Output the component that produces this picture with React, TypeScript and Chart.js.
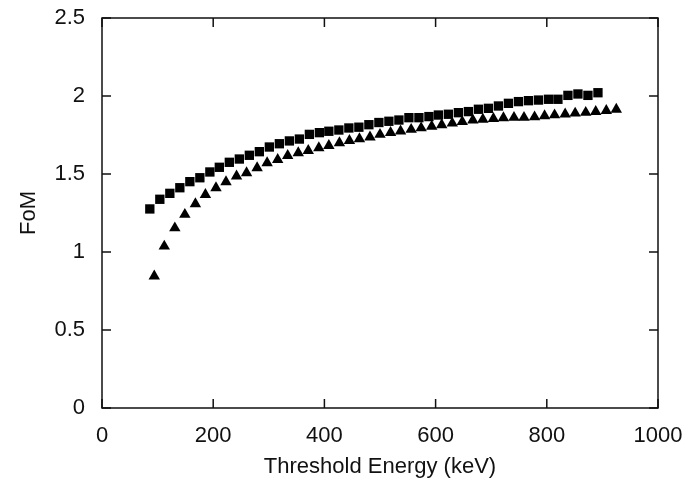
import React, { useEffect, useRef } from "react";
import { Chart, registerables } from "chart.js";

Chart.register(...registerables);

const squareEnergy = [86, 104, 122, 140, 158, 176, 194, 211, 229, 247, 265, 283, 301, 319, 337, 355, 373, 391, 408, 426, 444, 462, 480, 498, 516, 534, 552, 570, 588, 605, 623, 641, 659, 677, 695, 713, 731, 749, 767, 785, 803, 820, 838, 856, 874, 892];
const squareFoM = [1.276, 1.338, 1.376, 1.412, 1.451, 1.476, 1.513, 1.543, 1.575, 1.596, 1.62, 1.643, 1.673, 1.694, 1.712, 1.724, 1.754, 1.765, 1.774, 1.782, 1.795, 1.8, 1.816, 1.83, 1.838, 1.846, 1.861, 1.861, 1.868, 1.878, 1.883, 1.893, 1.9, 1.915, 1.921, 1.936, 1.953, 1.964, 1.97, 1.974, 1.979, 1.979, 2.004, 2.013, 2.004, 2.021];

const triangleEnergy = [94, 112, 131, 149, 168, 186, 205, 223, 242, 260, 279, 297, 316, 334, 353, 371, 390, 408, 427, 445, 463, 482, 500, 519, 537, 556, 574, 593, 611, 630, 648, 667, 685, 704, 722, 741, 759, 778, 796, 814, 833, 851, 870, 888, 907, 925];
const triangleFoM = [0.845, 1.037, 1.154, 1.24, 1.308, 1.368, 1.411, 1.449, 1.486, 1.507, 1.539, 1.571, 1.592, 1.618, 1.635, 1.65, 1.667, 1.682, 1.699, 1.714, 1.725, 1.736, 1.753, 1.765, 1.775, 1.785, 1.795, 1.805, 1.815, 1.825, 1.835, 1.845, 1.85, 1.855, 1.86, 1.862, 1.862, 1.865, 1.872, 1.878, 1.884, 1.889, 1.894, 1.9, 1.906, 1.914];

const xTicks = [0, 200, 400, 600, 800, 1000];
const xTickLabels = ["0", "200", "400", "600", "800", "1000"];
const yTicks = [0, 0.5, 1, 1.5, 2, 2.5];
const yTickLabels = ["0", "0.5", "1", "1.5", "2", "2.5"];

const xTitle = "Threshold Energy (keV)";
const yTitle = "FoM";

const FONT = "'Liberation Sans', Arial, Helvetica, sans-serif";
const INK = "#111111";
const FS = 22;

const frameTicks = {
  id: "frameTicks",
  afterDatasetsDraw(chart: any) {
    const { ctx, chartArea, scales } = chart;
    const { left, right, top, bottom } = chartArea;
    const len = 9;
    ctx.save();
    ctx.strokeStyle = INK;
    ctx.lineWidth = 1.5;
    ctx.beginPath();
    ctx.rect(left, top, right - left, bottom - top);
    ctx.stroke();
    ctx.beginPath();
    for (const v of xTicks) {
      const x = scales.x.getPixelForValue(v);
      ctx.moveTo(x, bottom);
      ctx.lineTo(x, bottom - len);
      ctx.moveTo(x, top);
      ctx.lineTo(x, top + len);
    }
    for (const v of yTicks) {
      const y = scales.y.getPixelForValue(v);
      ctx.moveTo(left, y);
      ctx.lineTo(left + len, y);
      ctx.moveTo(right, y);
      ctx.lineTo(right - len, y);
    }
    ctx.stroke();
    ctx.restore();
  },
};

export default function App() {
  const ref = useRef<HTMLCanvasElement | null>(null);

  useEffect(() => {
    if (!ref.current) return;
    const chart = new Chart(ref.current, {
      type: "scatter",
      data: {
        datasets: [
          {
            label: "squares",
            data: squareEnergy.map((x, i) => ({ x, y: squareFoM[i] })),
            pointStyle: "rect",
            pointRadius: 6.6,
            pointBackgroundColor: "#000",
            pointBorderWidth: 0,
            showLine: false,
          },
          {
            label: "triangles",
            data: triangleEnergy.map((x, i) => ({ x, y: triangleFoM[i] })),
            pointStyle: "triangle",
            pointRadius: 6.6,
            pointBackgroundColor: "#000",
            pointBorderWidth: 0,
            showLine: false,
          },
        ],
      },
      options: {
        responsive: false,
        animation: false,
        layout: { padding: { left: 0, right: 33, top: 18, bottom: 0 } },
        plugins: {
          legend: { display: false },
          tooltip: { enabled: false },
        },
        scales: {
          x: {
            type: "linear",
            min: 0,
            max: 1000,
            afterFit: (s: any) => {
              s.height = 74;
              s.paddingLeft = 0;
              s.paddingRight = 0;
            },
            afterBuildTicks: (s: any) => {
              s.ticks = xTicks.map((v) => ({ value: v }));
            },
            grid: { display: false, drawTicks: false },
            border: { display: false },
            ticks: {
              padding: 15,
              color: INK,
              font: { family: FONT, size: FS },
              maxRotation: 0,
              callback: (v: any) => {
                const i = xTicks.indexOf(Number(v));
                return i >= 0 ? xTickLabels[i] : "";
              },
            },
            title: {
              display: true,
              text: xTitle,
              color: INK,
              font: { family: FONT, size: FS },
              padding: { top: 0, bottom: 2 },
            },
          },
          y: {
            type: "linear",
            min: 0,
            max: 2.5,
            afterFit: (s: any) => {
              s.width = 102;
              s.paddingTop = 0;
              s.paddingBottom = 0;
            },
            afterBuildTicks: (s: any) => {
              s.ticks = yTicks.map((v) => ({ value: v }));
            },
            grid: { display: false, drawTicks: false },
            border: { display: false },
            ticks: {
              padding: 17,
              color: INK,
              font: { family: FONT, size: FS },
              callback: (v: any) => {
                const i = yTicks.indexOf(Number(v));
                return i >= 0 ? yTickLabels[i] : "";
              },
            },
            title: {
              display: true,
              text: yTitle,
              color: INK,
              font: { family: FONT, size: FS },
              padding: { top: 16, bottom: 0 },
            },
          },
        },
      },
      plugins: [frameTicks],
    });
    return () => chart.destroy();
  }, []);

  return (
    <div style={{ position: "fixed", left: 0, top: 0, width: 691, height: 482, background: "#fff" }}>
      <canvas ref={ref} width={691} height={482} style={{ display: "block" }} />
    </div>
  );
}
